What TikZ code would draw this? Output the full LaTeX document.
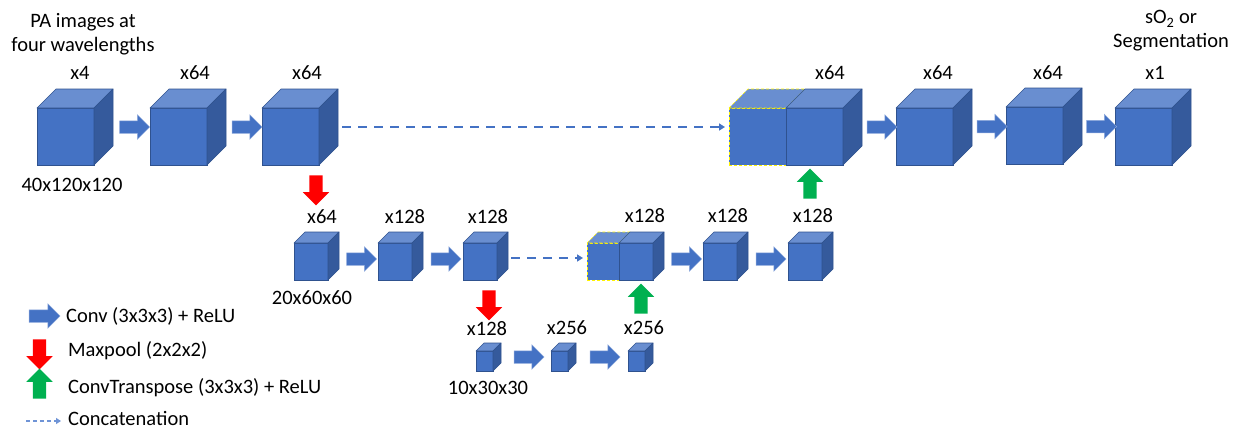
\documentclass[tikz,border=0pt]{standalone}
\usepackage{fontspec}
\setmainfont{Carlito}
\usepackage{tikz}
\usetikzlibrary{positioning, arrows.meta, shapes.arrows, calc}

\definecolor{cubefront}{HTML}{4472C4}
\definecolor{cubetop}{HTML}{698ED0}
\definecolor{cubeside}{HTML}{355A9C}
\definecolor{cubeline}{HTML}{2F528F}
\definecolor{arrowline}{HTML}{8FAADC}
\definecolor{poolred}{HTML}{FF0000}
\definecolor{upgreen}{HTML}{00B050}
\definecolor{legdash}{HTML}{6F94D6}

% front face is a node, top and side are drawn from its corners
\newcommand{\unetcube}[6]{%
  \node[frontface, minimum width=#4pt, minimum height=#5pt] (#1) at (#2,#3) {};
  \draw[topface] (#1.north west) -- ++(#6pt,#6pt) -- ++(#4pt,0pt) -- (#1.north east) -- cycle;
  \draw[sideface] (#1.north east) -- ++(#6pt,#6pt) -- ++(0pt,-#5pt) -- (#1.south east) -- cycle;
}
% copied feature maps (yellow dashed edges)
\newcommand{\copycube}[6]{%
  \node[frontface, copyedge, minimum width=#4pt, minimum height=#5pt] (#1) at (#2,#3) {};
  \draw[topface, copyedge] (#1.north west) -- ++(#6pt,#6pt) -- ++(#4pt,0pt) -- (#1.north east) -- cycle;
}

\begin{document}
\begin{tikzpicture}[x=1pt, y=-1pt,
    font=\fontsize{20.5}{24}\selectfont,
    frontface/.style={draw=cubeline, fill=cubefront, line width=0.6pt, inner sep=0pt, outer sep=0pt, anchor=north west},
    topface/.style={draw=cubeline, fill=cubetop, line width=0.6pt, line join=round},
    sideface/.style={draw=cubeline, fill=cubeside, line width=0.6pt, line join=round},
    copyedge/.style={draw=yellow, dash pattern=on 3pt off 2pt},
    convarrow/.style={single arrow, draw=arrowline, fill=cubefront, line width=0.5pt, inner xsep=0pt, inner ysep=6pt, single arrow head extend=6pt, minimum height=30pt},
    poolarrow/.style={single arrow, fill=poolred, inner xsep=0pt, inner ysep=6.5pt, single arrow head extend=6.5pt, minimum height=30pt, rotate=-90},
    uparrow/.style={poolarrow, fill=upgreen, rotate=180},
    concat/.style={draw=cubefront, line width=2.2pt, dash pattern=on 9pt off 7pt, -{Triangle[length=6pt, width=7pt]}},
    lbl/.style={inner sep=1pt},
    legtext/.style={inner sep=0pt, anchor=west}]
    \useasboundingbox (0,0) rectangle (1236,429);

    % Encoder, first level
    \unetcube{c11}{37}{108}{57}{57}{19}
    \unetcube{c12}{150}{108}{57}{57}{19}
    \unetcube{c13}{262}{108}{57}{57}{19}

    % Decoder, first level
    \copycube{d14}{729}{108}{57}{57}{19}
    \unetcube{c14}{786}{108}{57}{57}{19}
    \unetcube{c15}{896}{108}{57}{57}{19}
    \unetcube{c16}{1006}{107}{57}{57}{19}
    \unetcube{c17}{1115}{108}{57}{57}{19}

    % Second level
    \unetcube{c21}{294}{243}{34}{37}{11}
    \unetcube{c22}{378}{243}{34}{37}{11}
    \unetcube{c23}{463}{243}{34}{37}{11}
    \copycube{d24}{587}{243}{32}{37}{11}
    \unetcube{c24}{619}{243}{34}{37}{11}
    \unetcube{c25}{703}{243}{34}{37}{11}
    \unetcube{c26}{788}{243}{34}{37}{11}

    % Bottom level
    \unetcube{c31}{476}{351}{17}{20}{8}
    \unetcube{c32}{551}{351}{17}{20}{8}
    \unetcube{c33}{628}{351}{17}{20}{8}

    % Conv + ReLU steps
    \foreach \a/\b/\sx/\sy in {c11/c12/9.5/9.5, c12/c13/9.5/9.5, c14/c15/9.5/9.5, c15/c16/9.5/9.5, c16/c17/9.5/9.5,
                               c21/c22/5.5/2.5, c22/c23/5.5/2.5, c24/c25/5.5/2.5, c25/c26/5.5/2.5,
                               c31/c32/4/4, c32/c33/4/4}
        \node[convarrow] (conv-\a) at ($(\a.east)!0.5!(\b.west)+(\sx pt,\sy pt)$) {};

    % Pooling and up-convolution
    \node[poolarrow] (pool1) at (316,187) {};
    \node[poolarrow] (pool2) at (489,302) {};
    \node[uparrow] (up2) at (641,302) {};
    \node[uparrow] (up1) at (810,187) {};

    % Skip connections
    \draw[concat] ($(c13.east)+(23pt,9.5pt)$) -- ($(d14.west)+(-4pt,9.5pt)$);
    \draw[concat] ($(c23.east)+(14pt,3.5pt)$) -- ($(d24.west)+(-4pt,3.5pt)$);

    % Channel counts
    \node[lbl] (t11) at (80,73) {x4};
    \node[lbl] (t12) at (195,73) {x64};
    \node[lbl] (t13) at (307,73) {x64};
    \node[lbl] (t14) at (830,73) {x64};
    \node[lbl] (t15) at (938,73) {x64};
    \node[lbl] (t16) at (1048,73) {x64};
    \node[lbl] (t17) at (1155,73) {x1};
    \node[lbl] (t21) at (322,217) {x64};
    \node[lbl] (t22) at (405,217) {x128};
    \node[lbl] (t23) at (488,217) {x128};
    \node[lbl] (t24) at (645,216) {x128};
    \node[lbl] (t25) at (728,216) {x128};
    \node[lbl] (t26) at (813,216) {x128};
    \node[lbl] (t31) at (487,329) {x128};
    \node[lbl] (t32) at (567,328) {x256};
    \node[lbl] (t33) at (644,328) {x256};

    % Volume sizes
    \node[lbl] (s1) at (72,185) {40x120x120};
    \node[lbl] (s2) at (312,298) {20x60x60};
    \node[lbl] (s3) at (488,388) {10x30x30};

    % Input and output
    \node[lbl, align=center] (input) at (83,34) {PA images at\\four wavelengths};
    \node[lbl, align=center] (output) at (1171,31) {sO\textsubscript{2} or\\Segmentation};

    % Legend
    \node[convarrow, minimum height=31pt] (legconv) at (41.5,316) {};
    \node[legtext] (legconvtxt) at (66,316) {Conv (3x3x3) + ReLU};
    \node[poolarrow] (legpool) at (39.5,351) {};
    \node[legtext] (legpooltxt) at (68,351) {Maxpool (2x2x2)};
    \node[uparrow] (legup) at (39.5,387) {};
    \node[legtext] (leguptxt) at (68,388) {ConvTranspose (3x3x3) + ReLU};
    \coordinate (legcat1) at (26,421);
    \coordinate (legcat2) at (61,421);
    \draw[draw=legdash, line width=1.3pt, dash pattern=on 4pt off 3pt, -{Triangle[length=5pt, width=6pt]}] (legcat1) -- (legcat2);
    \node[legtext] (legcattxt) at (68,418.5) {Concatenation};
\end{tikzpicture}
\end{document}
